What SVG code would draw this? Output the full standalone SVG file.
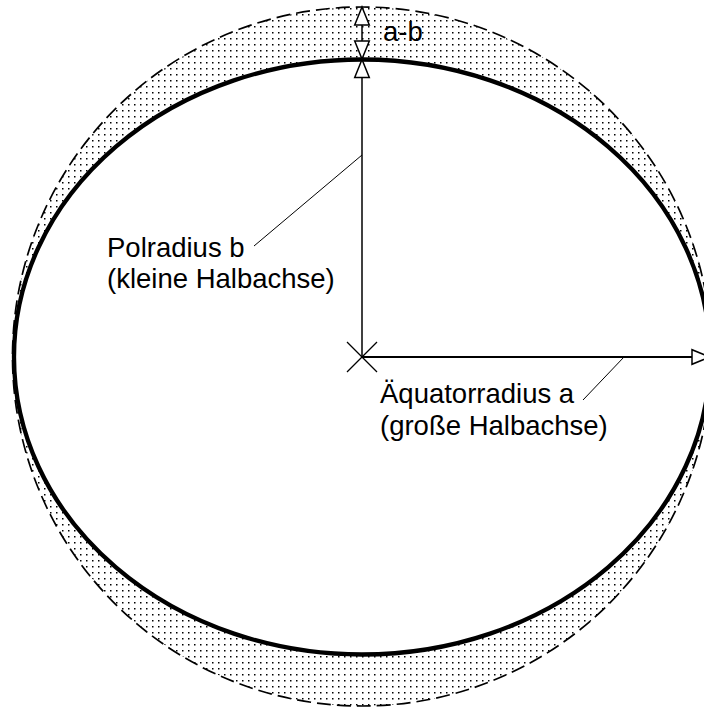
<svg xmlns="http://www.w3.org/2000/svg" width="704" height="707" viewBox="0 0 704 707">
<style>
  .lbl { font-family: "Liberation Sans", Arial, sans-serif; font-size: 27.5px; fill: #000; }
  .axis { stroke: #000; fill: none; }
  .leader { stroke: #000; stroke-width: 1; fill: none; }
</style>
<defs>
  <pattern id="dots" x="0" y="0" width="6" height="6" patternUnits="userSpaceOnUse">
    <rect x="2" y="2" width="1.5" height="1.5" fill="#000"/>
  </pattern>
  <marker id="open" viewBox="-20 -9 22 18" refX="0" refY="0" markerWidth="22" markerHeight="18" markerUnits="userSpaceOnUse" orient="auto-start-reverse" overflow="visible">
    <path d="M0,0 L-18,-7.3 L-18,7.3 Z" fill="#fff" stroke="#000" stroke-width="1.5" stroke-linejoin="miter"/>
  </marker>
</defs>
<rect width="704" height="707" fill="#fff"/>
<g id="band">
  <path fill="url(#dots)" fill-rule="evenodd" d="M12.5,356.5 A349.5,349.5 0 1 0 711.5,356.5 A349.5,349.5 0 1 0 12.5,356.5 Z M14,357 A348,297.5 0 1 0 710,357 A348,297.5 0 1 0 14,357 Z"/>
</g>
<g id="circle">
  <circle cx="362" cy="356.5" r="349.5" fill="none" stroke="#000" stroke-width="1.7" stroke-dasharray="14 6"/>
</g>
<g id="ellipse">
  <ellipse cx="362" cy="357" rx="348" ry="297.5" fill="none" stroke="#000" stroke-width="4.3"/>
</g>
<g id="center">
  <line x1="347" y1="342" x2="377" y2="372" stroke="#000" stroke-width="1.3"/>
  <line x1="347" y1="372" x2="377" y2="342" stroke="#000" stroke-width="1.3"/>
</g>
<g id="connectors">
  <line class="axis" x1="362" y1="357" x2="362" y2="59.5" stroke-width="1.5" marker-end="url(#open)"/>
  <line class="axis" x1="362" y1="357" x2="710" y2="357" stroke-width="2" marker-end="url(#open)"/>
  <line class="axis" x1="362" y1="7" x2="362" y2="59" stroke-width="1.5" marker-start="url(#open)" marker-end="url(#open)"/>
  <line class="leader" x1="254" y1="246" x2="362" y2="155"/>
  <line class="leader" x1="583" y1="400" x2="624" y2="357"/>
</g>
<g id="label-ab">
  <text class="lbl" x="383" y="41">a-b</text>
</g>
<g id="label-polradius">
  <text class="lbl" x="107" y="257">Polradius b</text>
  <text class="lbl" x="107" y="288">(kleine Halbachse)</text>
</g>
<g id="label-aequator">
  <text class="lbl" x="380" y="403">Äquatorradius a</text>
  <text class="lbl" x="380" y="435">(große Halbachse)</text>
</g>
</svg>
